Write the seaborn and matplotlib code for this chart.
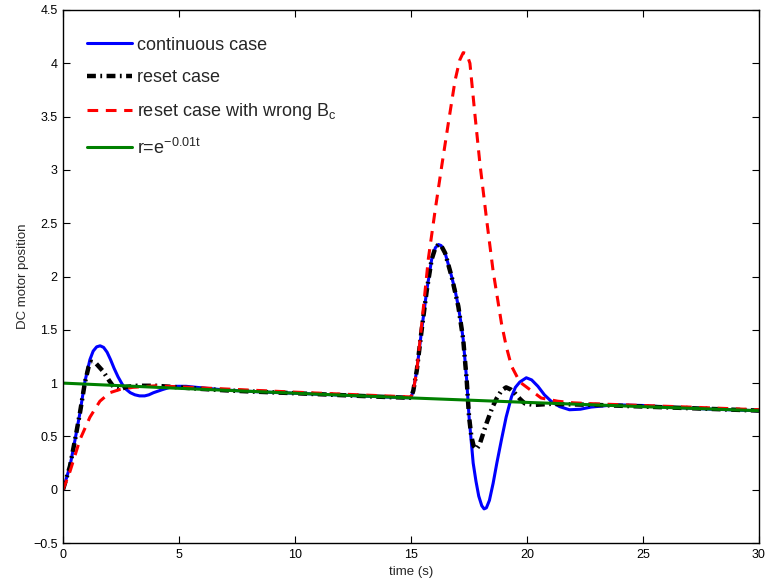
import numpy as np
import pandas as pd
import matplotlib
matplotlib.use("Agg")
import matplotlib.pyplot as plt
from matplotlib.ticker import FuncFormatter
import seaborn as sns

# values
t_cont = [0, 0.3, 0.52, 0.73, 0.94, 1.16, 1.3, 1.45, 1.6, 1.75, 1.9, 2.05, 2.2, 2.37, 2.55,
          2.73, 2.9, 3.1, 3.3, 3.52, 3.7, 3.9, 4.1, 4.3, 4.6, 4.88, 5.3, 6, 7, 8, 9, 10, 11,
          12, 13, 14, 15.0, 15.1, 15.25, 15.46, 15.68, 15.89, 16.05, 16.18, 16.3, 16.47,
          16.6, 16.75, 16.9, 17.04, 17.15, 17.25, 17.4, 17.5, 17.68, 17.8, 17.92, 18.05,
          18.15, 18.25, 18.38, 18.54, 18.7, 18.9, 19.1, 19.33, 19.5, 19.69, 19.97, 20.2,
          20.47, 20.75, 21.04, 21.4, 21.83, 22.3, 22.76, 23.48, 24, 25, 26, 27, 28, 29, 30]
v_cont = [0, 0.22, 0.47, 0.72, 1.01, 1.22, 1.30, 1.34, 1.35, 1.335, 1.29, 1.22, 1.14, 1.06,
          0.99, 0.94, 0.91, 0.89, 0.88, 0.88, 0.89, 0.91, 0.925, 0.94, 0.96, 0.97, 0.97,
          0.955, 0.935, 0.923, 0.913, 0.905, 0.896, 0.887, 0.878, 0.869, 0.862, 0.93, 1.12,
          1.50, 1.87, 2.16, 2.27, 2.30, 2.29, 2.22, 2.12, 2.0, 1.87, 1.72, 1.57, 1.41, 1.03,
          0.69, 0.25, 0.08, -0.06, -0.15, -0.18, -0.17, -0.10, 0.06, 0.25, 0.47, 0.68, 0.87,
          0.96, 1.01, 1.05, 1.03, 0.97, 0.89, 0.83, 0.78, 0.75, 0.755, 0.775, 0.79, 0.795,
          0.79, 0.775, 0.765, 0.755, 0.748, 0.74]

t_reset = [0, 0.3, 0.52, 0.73, 0.94, 1.1, 1.23, 1.4, 1.73, 2.0, 2.23, 2.45, 2.73, 3.2, 4.0,
           5, 6, 7, 8, 10, 12, 14, 15.0, 15.1, 15.25, 15.46, 15.68, 15.89, 16.05, 16.18,
           16.3, 16.47, 16.75, 17.04, 17.25, 17.4, 17.5, 17.6, 17.7, 17.82, 17.95, 18.1,
           18.25, 18.5, 18.7, 18.9, 19.1, 19.3, 19.5, 19.7, 19.9, 20.3, 21, 22, 23, 25, 30]
v_reset = [0, 0.22, 0.47, 0.72, 1.0, 1.15, 1.20, 1.19, 1.11, 1.02, 0.95, 0.94, 0.965, 0.975,
           0.975, 0.96, 0.945, 0.932, 0.922, 0.905, 0.887, 0.869, 0.862, 0.93, 1.12, 1.50,
           1.87, 2.16, 2.27, 2.30, 2.29, 2.22, 2.0, 1.72, 1.41, 1.03, 0.69, 0.50, 0.41, 0.38,
           0.42, 0.52, 0.62, 0.77, 0.86, 0.93, 0.96, 0.94, 0.90, 0.85, 0.81, 0.795, 0.805,
           0.80, 0.795, 0.78, 0.742]

t_wrong = [0, 0.3, 0.73, 1.16, 1.59, 2.02, 2.45, 3.0, 4, 5, 6, 8, 10, 12, 14, 15.0, 15.1,
           15.25, 15.46, 15.75, 16.04, 16.32, 16.61, 16.9, 17.1, 17.25, 17.4, 17.54, 17.75,
           17.97, 18.25, 18.54, 18.9, 19.11, 19.33, 19.69, 20.12, 20.61, 21.33, 22, 23, 25,
           27, 30]
v_wrong = [0, 0.17, 0.47, 0.68, 0.83, 0.91, 0.94, 0.96, 0.975, 0.965, 0.955, 0.935, 0.915,
           0.897, 0.879, 0.87, 0.93, 1.12, 1.55, 2.17, 2.62, 3.03, 3.44, 3.84, 4.03, 4.10,
           4.09, 4.0, 3.53, 3.06, 2.55, 2.05, 1.56, 1.34, 1.16, 1.01, 0.94, 0.86, 0.83, 0.815,
           0.805, 0.79, 0.775, 0.75]

t_ref = [0, 5, 10, 15, 20, 25, 30]
v_ref = [1.0, 0.951, 0.905, 0.861, 0.819, 0.779, 0.741]

labels = ["continuous case", "reset case", "reset case with wrong B$_\\mathregular{c}$",
          "r=e$^{\\mathregular{-0.01t}}$"]
xticks = [0, 5, 10, 15, 20, 25, 30]
yticks = [-0.5, 0, 0.5, 1, 1.5, 2, 2.5, 3, 3.5, 4, 4.5]

sns.set_style("ticks")
plt.rcParams["font.family"] = ["Liberation Sans", "DejaVu Sans"]
plt.rcParams["mathtext.fontset"] = "custom"
plt.rcParams["mathtext.rm"] = "Liberation Sans"
plt.rcParams["mathtext.it"] = "Liberation Sans"

fig = plt.figure(figsize=(7.67, 5.81), dpi=100)
ax = fig.add_axes([63 / 767, 38 / 581, 696 / 767, 533 / 581])

sns.lineplot(x=t_cont, y=v_cont, ax=ax, color="#0000ff", linewidth=2.2,
             label=labels[0], estimator=None, sort=False)
sns.lineplot(x=t_reset, y=v_reset, ax=ax, color="black", linewidth=3.2,
             linestyle=(0, (2, 1, 0.4, 1)), label=labels[1], estimator=None, sort=False)
sns.lineplot(x=t_wrong, y=v_wrong, ax=ax, color="#ff0000", linewidth=2.2,
             linestyle=(0, (3.5, 2.5)), label=labels[2], estimator=None, sort=False)
sns.lineplot(x=t_ref, y=v_ref, ax=ax, color="#008000", linewidth=2.2,
             label=labels[3], estimator=None, sort=False)

ax.set_xlim(0, 30)
ax.set_ylim(-0.5, 4.5)
ax.set_xticks(xticks)
ax.set_yticks(yticks)
fmt = FuncFormatter(lambda v, p: ("%g" % v).replace("-", "\u2212"))
ax.xaxis.set_major_formatter(fmt)
ax.yaxis.set_major_formatter(fmt)
ax.tick_params(direction="in", length=5, width=0.8, labelsize=9, pad=4,
               top=True, right=True, colors="black")
for sp in ax.spines.values():
    sp.set_visible(True)
    sp.set_linewidth(1.0)
    sp.set_color("black")

ax.set_xlabel("time (s)", fontsize=9.5, labelpad=4)
ax.set_ylabel("DC motor position", fontsize=9.5, labelpad=3)

ax.legend(loc="upper left", bbox_to_anchor=(0.034, 0.950), frameon=False, fontsize=13,
          borderpad=0, borderaxespad=0, handlelength=2.5, handletextpad=0.3,
          labelspacing=0.85)

fig.savefig("out.png", dpi=100)
